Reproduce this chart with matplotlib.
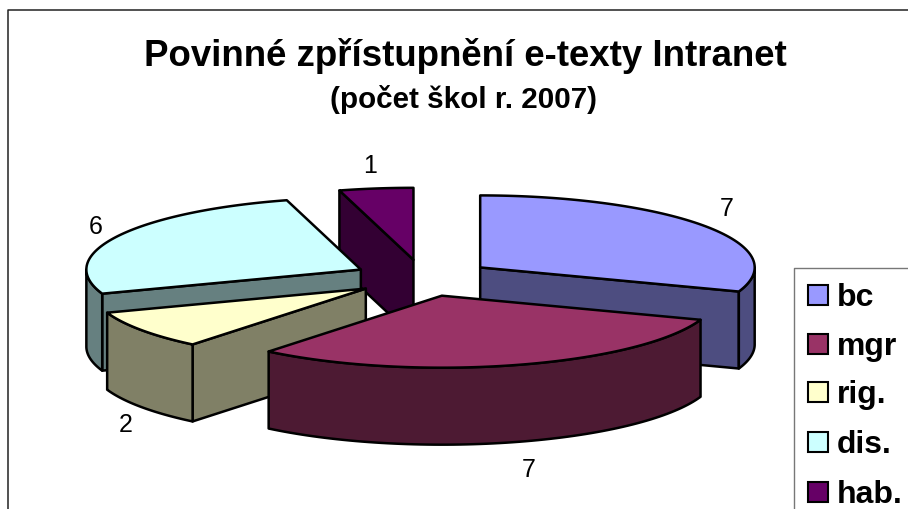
import numpy as np
import matplotlib
matplotlib.use('Agg')
import matplotlib.pyplot as plt
from matplotlib.patches import Polygon, Rectangle

plt.rcParams['font.family'] = ['Liberation Sans', 'DejaVu Sans']

# Data
labels = ['bc', 'mgr', 'rig.', 'dis.', 'hab.']
values = [7, 7, 2, 6, 1]
colors = ['#9999FF', '#993366', '#FFFFCC', '#CCFFFF', '#660066']
side_colors = ['#4D4D80', '#4D1A33', '#808066', '#668080', '#330033']

# Pie geometry in pixels
cx, cy = 423, 279
rx, ry = 274.5, 72
depth = 77
explode = 0.255
lw = 1.8

fig = plt.figure(figsize=(9.08, 5.10), dpi=100)
ax = fig.add_axes([0, 0, 1, 1])
ax.set_xlim(0, 908)
ax.set_ylim(510, 0)
ax.axis('off')


def pt(ox, oy, deg):
    # angle runs clockwise from 12 o'clock
    t = np.radians(deg)
    return ox + rx * np.sin(t), oy - ry * np.cos(t)


def arc(ox, oy, a, b):
    t = np.linspace(a, b, 80)
    x, y = pt(ox, oy, t)
    return np.column_stack([x, y])


def wall(pts):
    top = np.asarray(pts)
    bottom = top[::-1] + [0, depth]
    return np.vstack([top, bottom])


# Slice angles
edges = np.cumsum([0] + values) / sum(values) * 360
slices = []
for i in range(len(values)):
    a, b = edges[i], edges[i + 1]
    mid = np.radians((a + b) / 2)
    ox = cx + explode * rx * np.sin(mid)
    oy = cy - explode * ry * np.cos(mid)
    slices.append((i, a, b, ox, oy))

# Back to front
for i, a, b, ox, oy in [slices[k] for k in [4, 3, 2, 0, 1]]:
    style = dict(facecolor=side_colors[i], edgecolor='black', linewidth=lw, joinstyle='round')
    if 180 < a < 360:
        ax.add_patch(Polygon(wall([(ox, oy), pt(ox, oy, a)]), closed=True, **style))
    if 0 < b < 180:
        ax.add_patch(Polygon(wall([(ox, oy), pt(ox, oy, b)]), closed=True, **style))
    lo, hi = max(a, 90), min(b, 270)
    if lo < hi:
        ax.add_patch(Polygon(wall(arc(ox, oy, lo, hi)), closed=True, **style))
    top = np.vstack([[ox, oy], arc(ox, oy, a, b)])
    ax.add_patch(Polygon(top, closed=True, facecolor=colors[i], edgecolor='black',
                         linewidth=lw, joinstyle='round'))

# Value labels
label_x = [727, 529, 126, 95.5, 370]
label_y = [209.5, 470.5, 425.5, 227.5, 166]
for v, x, y in zip(values, label_x, label_y):
    ax.text(x, y, str(v), fontsize=18, ha='center', va='center')

# Title
ax.text(465, 55.5, 'Povinné zpřístupnění e-texty Intranet', fontsize=26.4, weight='bold',
        ha='center', va='center')
ax.text(463, 99.5, '(počet škol r. 2007)', fontsize=21.3, weight='bold', ha='center', va='center')

# Chart border
ax.plot([7.5, 7.5, 908], [510, 10.5, 10.5], color='#222222', lw=1.1)

# Legend
ax.plot([794, 794, 908], [510, 268.5, 268.5], color='#777777', lw=1)
legend_y = [296, 345, 393, 443, 493]
for lab, c, y in zip(labels, colors, legend_y):
    ax.add_patch(Rectangle((808, y - 10), 20, 20, facecolor=c, edgecolor='black', linewidth=1.5))
    ax.text(836.5, y + 2, lab, fontsize=23, weight='bold', ha='left', va='center')

fig.savefig('out.png', dpi=100)
